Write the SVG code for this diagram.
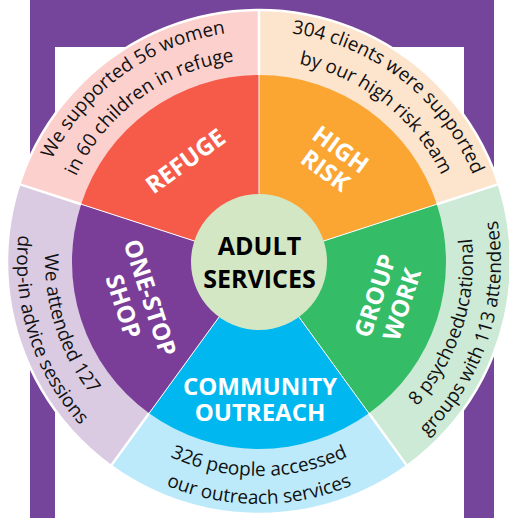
<svg xmlns="http://www.w3.org/2000/svg" width="509" height="518" viewBox="0 0 509 518">
<defs>
<style>
.frame{fill:#74459B}
.lbl{font-family:"Open Sans","Noto Sans","Liberation Sans",sans-serif;font-weight:700;font-size:24px;fill:#FFFFFF;text-anchor:middle}
.ctr{font-family:"Open Sans","Noto Sans","Liberation Sans",sans-serif;font-weight:700;font-size:25px;fill:#000000;text-anchor:middle}
.arc{font-family:"Open Sans","Noto Sans","Liberation Sans",sans-serif;font-size:19px;fill:#111111;text-anchor:middle}
.div{stroke:#FFFFFF;fill:none}
</style>
<path id="p-ref1" d="M29.27,286.15 A231,231 0 0 1 352.96,50.97"/>
<path id="p-ref2" d="M58.11,283.12 A202,202 0 0 1 341.16,77.46"/>
<path id="p-hr1" d="M172.47,47.82 A231,231 0 0 1 487.75,294.15"/>
<path id="p-hr2" d="M183.33,74.71 A202,202 0 0 1 459.03,290.11"/>
<path id="p-gw1" d="M303.49,471.32 A214,214 0 0 0 418.03,118.81"/>
<path id="p-gw2" d="M309.31,498.71 A242,242 0 0 0 438.84,100.07"/>
<path id="p-co1" d="M73.67,369 A214,214 0 0 0 444.33,369"/>
<path id="p-co2" d="M49.42,383 A242,242 0 0 0 468.58,383"/>
<path id="p-os1" d="M99.97,118.81 A214,214 0 0 0 214.51,471.32"/>
<path id="p-os2" d="M79.16,100.07 A242,242 0 0 0 208.69,498.71"/>
</defs>

<g id="frame">
<rect class="frame" x="30" y="0" width="464" height="47"/>
<rect class="frame" x="30" y="0" width="25" height="518"/>
<rect class="frame" x="464" y="0" width="30" height="518"/>
</g>

<g id="refuge">
<path d="M259,262 L19.33,184.13 A252,252 0 0 1 259,10 Z" fill="#FCD0CD"/>
<path d="M259,262 L81.15,204.21 A187,187 0 0 1 259,75 Z" fill="#F65B4A"/>
<text class="lbl" transform="translate(185.5,161) rotate(-36)" x="0" y="8.5">REFUGE</text>
<text class="arc"><textPath href="#p-ref1" startOffset="50%">We supported 56 women</textPath></text>
<text class="arc"><textPath href="#p-ref2" startOffset="50%">in 60 children in refuge</textPath></text>
</g>

<g id="high-risk">
<path d="M259,262 L259,10 A252,252 0 0 1 498.67,184.13 Z" fill="#FDE4CC"/>
<path d="M259,262 L259,75 A187,187 0 0 1 436.85,204.21 Z" fill="#FBA533"/>
<text class="lbl" transform="translate(333,160) rotate(36)"><tspan x="0" y="-4.5">HIGH</tspan><tspan x="0" y="21.5">RISK</tspan></text>
<text class="arc"><textPath href="#p-hr1" startOffset="50%">304 clients were supported</textPath></text>
<text class="arc"><textPath href="#p-hr2" startOffset="50%">by our high risk team</textPath></text>
</g>

<g id="group-work">
<path d="M259,262 L498.67,184.13 A252,252 0 0 1 407.12,465.87 Z" fill="#CCEAD6"/>
<path d="M259,262 L436.85,204.21 A187,187 0 0 1 368.92,413.29 Z" fill="#35BC67"/>
<text class="lbl" transform="translate(388.5,300) rotate(-72)"><tspan x="0" y="-5.5">GROUP</tspan><tspan x="0" y="22.5">WORK</tspan></text>
<text class="arc"><textPath href="#p-gw1" startOffset="50%">8 psychoeducational</textPath></text>
<text class="arc"><textPath href="#p-gw2" startOffset="50%">groups with 113 attendees</textPath></text>
</g>

<g id="community-outreach">
<path d="M259,262 L407.12,465.87 A252,252 0 0 1 110.88,465.87 Z" fill="#BDEAFA"/>
<path d="M259,262 L368.92,413.29 A187,187 0 0 1 149.08,413.29 Z" fill="#00B8EF"/>
<text class="lbl"><tspan x="260" y="395">COMMUNITY</tspan><tspan x="260" y="421">OUTREACH</tspan></text>
<text class="arc"><textPath href="#p-co1" startOffset="50%">326 people accessed</textPath></text>
<text class="arc"><textPath href="#p-co2" startOffset="50%">our outreach services</textPath></text>
</g>

<g id="one-stop-shop">
<path d="M259,262 L110.88,465.87 A252,252 0 0 1 19.33,184.13 Z" fill="#DACBE3"/>
<path d="M259,262 L149.08,413.29 A187,187 0 0 1 81.15,204.21 Z" fill="#7A3E98"/>
<text class="lbl" transform="translate(136.75,302) rotate(72)"><tspan x="0" y="-5.5">ONE-STOP</tspan><tspan x="0" y="22.5">SHOP</tspan></text>
<text class="arc"><textPath href="#p-os1" startOffset="50%">We attended 127</textPath></text>
<text class="arc"><textPath href="#p-os2" startOffset="50%">drop-in advice sessions</textPath></text>
</g>

<g id="dividers">
<path class="div" stroke-width="1" d="M259,262 L259,75 M259,262 L436.85,204.21 M259,262 L368.92,413.29 M259,262 L149.08,413.29 M259,262 L81.15,204.21"/>
<path class="div" stroke-width="2.5" d="M259,75 L259,10 M436.85,204.21 L498.67,184.13 M368.92,413.29 L407.12,465.87 M149.08,413.29 L110.88,465.87 M81.15,204.21 L19.33,184.13"/>
<circle class="div" stroke-width="2.5" cx="259" cy="262" r="252"/>
</g>

<g id="adult-services">
<circle cx="259" cy="262" r="68" fill="#D4E7C4"/>
<text class="ctr"><tspan x="259.5" y="255">ADULT</tspan><tspan x="259.5" y="288">SERVICES</tspan></text>
</g>
</svg>
